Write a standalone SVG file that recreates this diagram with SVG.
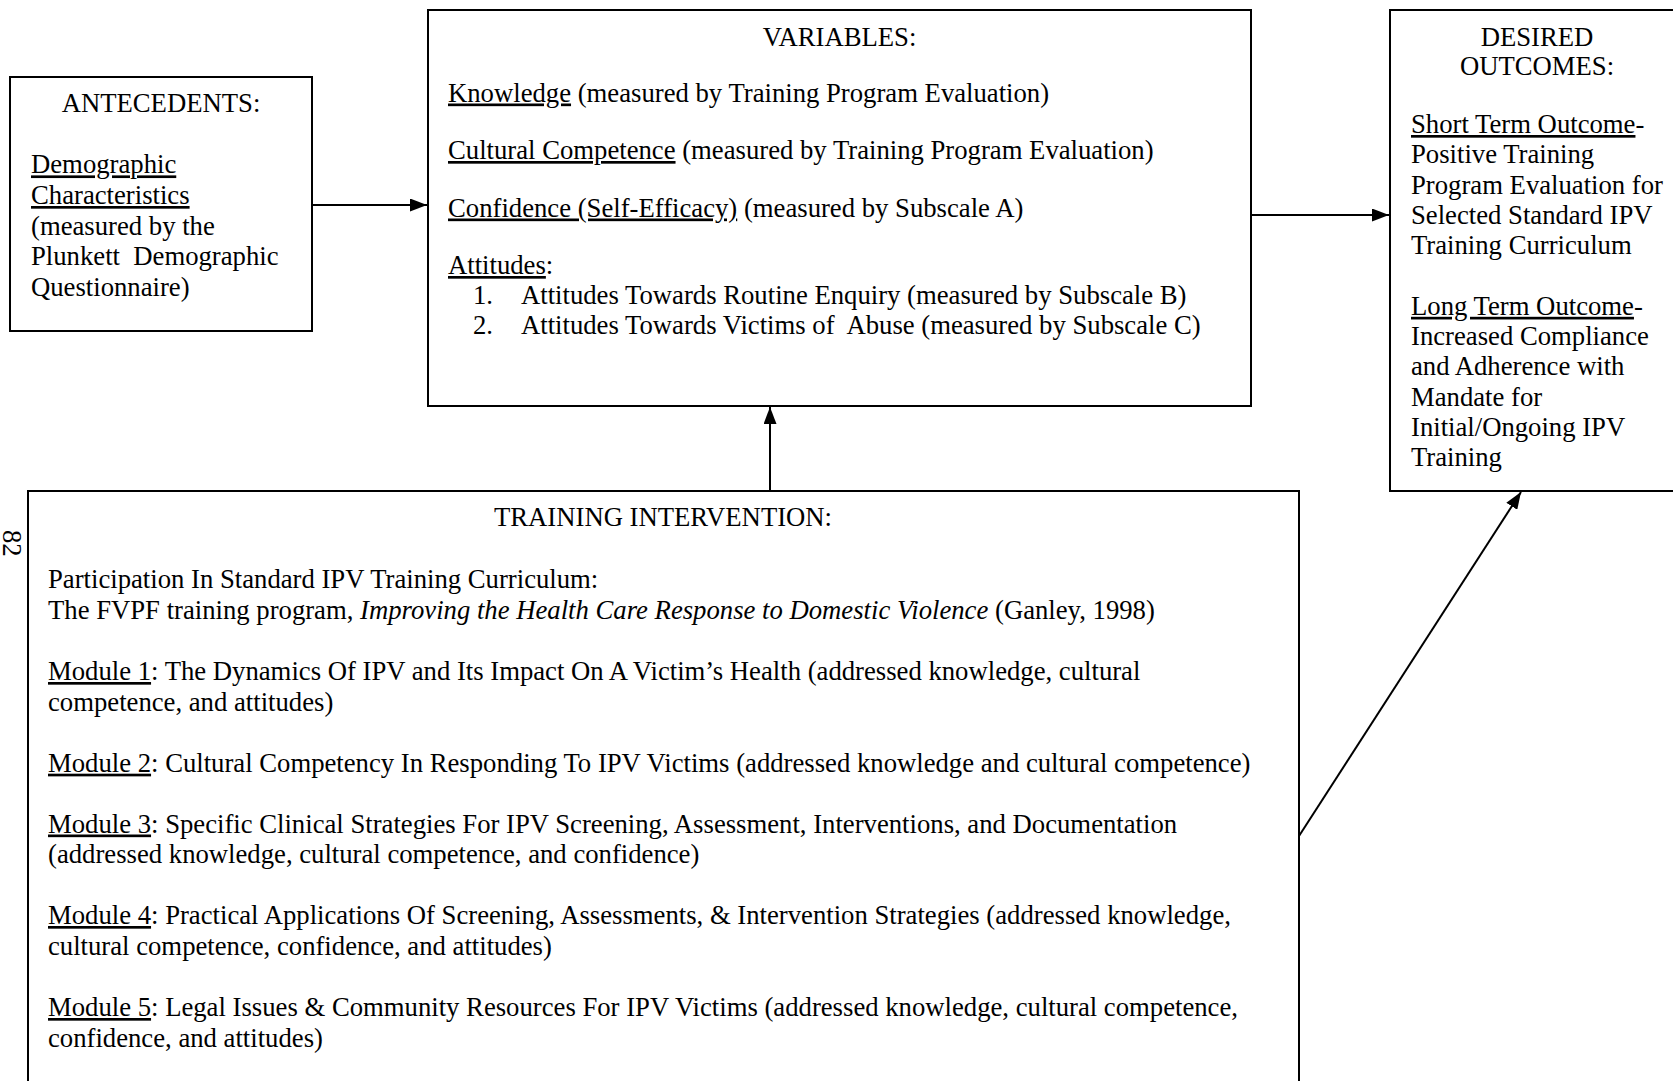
<svg xmlns="http://www.w3.org/2000/svg" width="1673" height="1081" viewBox="0 0 1673 1081">
<style>
  text { font-family: "Liberation Serif", "Times New Roman", serif; font-size: 26.7px; fill: #000; white-space: pre; }
  .c { text-anchor: middle; }
  .u { text-decoration: underline; }
  .i { font-style: italic; }
  .box { fill: #fff; stroke: #000; stroke-width: 2; }
  .conn { stroke: #000; stroke-width: 2; fill: none; }
</style>
<defs>
  <marker id="arr" markerUnits="userSpaceOnUse" markerWidth="17" markerHeight="13" refX="17" refY="6.5" orient="auto">
    <path d="M0,0 L17,6.5 L0,13 z" fill="#000"/>
  </marker>
</defs>
<rect width="1673" height="1081" fill="#fff"/>

<g id="antecedents">
  <rect class="box" x="10" y="77" width="302" height="254"/>
  <text class="c" x="161" y="112">ANTECEDENTS:</text>
  <text x="31" y="173.4"><tspan class="u">Demographic</tspan></text>
  <text x="31" y="204"><tspan class="u">Characteristics</tspan></text>
  <text x="31" y="234.7">(measured by the</text>
  <text x="31" y="265.3">Plunkett  Demographic</text>
  <text x="31" y="296">Questionnaire)</text>
</g>

<g id="variables">
  <rect class="box" x="428" y="10" width="823" height="396"/>
  <text class="c" x="839.5" y="45.5">VARIABLES:</text>
  <text x="448" y="101.5"><tspan class="u">Knowledge</tspan> (measured by Training Program Evaluation)</text>
  <text x="448" y="159"><tspan class="u">Cultural Competence</tspan> (measured by Training Program Evaluation)</text>
  <text x="448" y="216.5"><tspan class="u">Confidence (Self-Efficacy)</tspan> (measured by Subscale A)</text>
  <text x="448" y="274"><tspan class="u">Attitudes</tspan>:</text>
  <text x="473" y="304">1.</text>
  <text x="521" y="304">Attitudes Towards Routine Enquiry (measured by Subscale B)</text>
  <text x="473" y="334">2.</text>
  <text x="521" y="334">Attitudes Towards Victims of  Abuse (measured by Subscale C)</text>
</g>

<g id="outcomes">
  <rect class="box" x="1390" y="10" width="300" height="481"/>
  <text class="c" x="1537" y="45.5">DESIRED</text>
  <text class="c" x="1537" y="75">OUTCOMES:</text>
  <text x="1411" y="133"><tspan class="u">Short Term Outcome</tspan>-</text>
  <text x="1411" y="163.3">Positive Training</text>
  <text x="1411" y="193.6">Program Evaluation for</text>
  <text x="1411" y="223.9">Selected Standard IPV</text>
  <text x="1411" y="254.2">Training Curriculum</text>
  <text x="1411" y="314.8"><tspan class="u">Long Term Outcome</tspan>-</text>
  <text x="1411" y="345.1">Increased Compliance</text>
  <text x="1411" y="375.4">and Adherence with</text>
  <text x="1411" y="405.7">Mandate for</text>
  <text x="1411" y="436">Initial/Ongoing IPV</text>
  <text x="1411" y="466.3">Training</text>
</g>

<g id="training">
  <rect class="box" x="28" y="491" width="1271" height="620"/>
  <text class="c" x="663" y="525.5">TRAINING INTERVENTION:</text>
  <text x="48" y="588.3">Participation In Standard IPV Training Curriculum:</text>
  <text x="48" y="618.8">The FVPF training program, <tspan class="i">Improving the Health Care Response to Domestic Violence</tspan> (Ganley, 1998)</text>
  <text x="48" y="680"><tspan class="u">Module 1</tspan>: The Dynamics Of IPV and Its Impact On A Victim’s Health (addressed knowledge, cultural</text>
  <text x="48" y="710.7">competence, and attitudes)</text>
  <text x="48" y="771.7"><tspan class="u">Module 2</tspan>: Cultural Competency In Responding To IPV Victims (addressed knowledge and cultural competence)</text>
  <text x="48" y="832.5"><tspan class="u">Module 3</tspan>: Specific Clinical Strategies For IPV Screening, Assessment, Interventions, and Documentation</text>
  <text x="48" y="863.2">(addressed knowledge, cultural competence, and confidence)</text>
  <text x="48" y="924"><tspan class="u">Module 4</tspan>: Practical Applications Of Screening, Assessments, &amp; Intervention Strategies (addressed knowledge,</text>
  <text x="48" y="954.7">cultural competence, confidence, and attitudes)</text>
  <text x="48" y="1016"><tspan class="u">Module 5</tspan>: Legal Issues &amp; Community Resources For IPV Victims (addressed knowledge, cultural competence,</text>
  <text x="48" y="1046.7">confidence, and attitudes)</text>
</g>

<g id="page-number">
  <text transform="translate(3,530) rotate(90)" x="0" y="0">82</text>
</g>

<g id="connectors">
  <line class="conn" x1="312" y1="205" x2="427" y2="205" marker-end="url(#arr)"/>
  <line class="conn" x1="1251" y1="215" x2="1389" y2="215" marker-end="url(#arr)"/>
  <line class="conn" x1="770" y1="491" x2="770" y2="407" marker-end="url(#arr)"/>
  <line class="conn" x1="1299" y1="836" x2="1521" y2="492" marker-end="url(#arr)"/>
</g>
</svg>
